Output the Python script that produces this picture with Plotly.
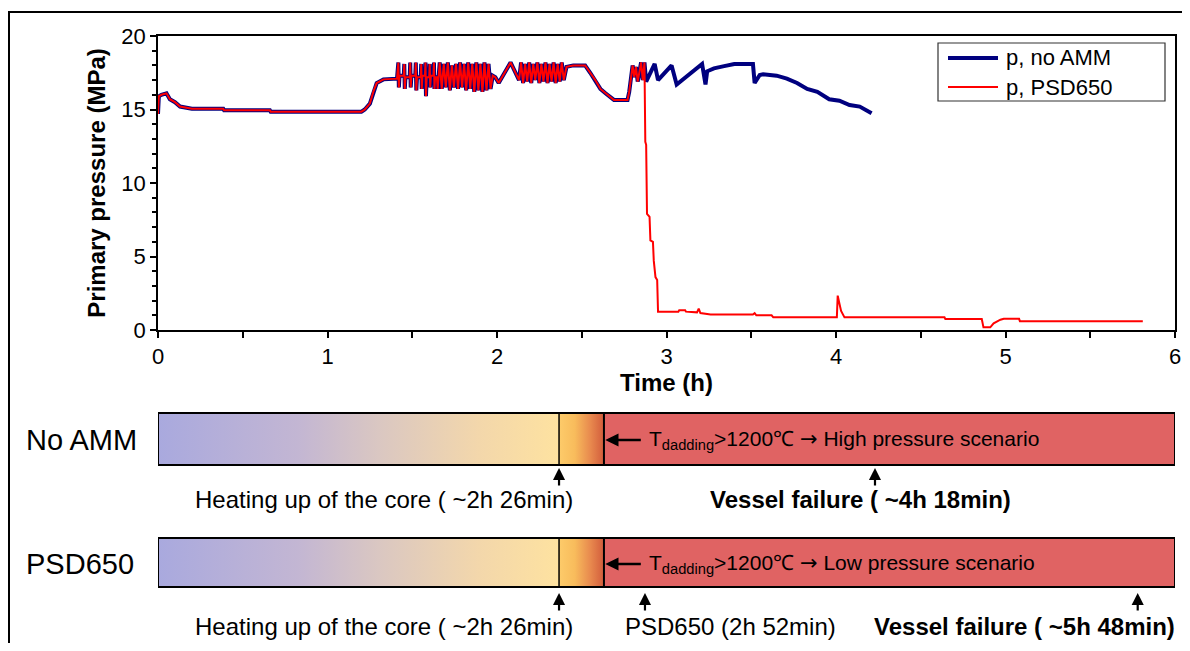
import plotly.graph_objects as go

# ---------------- data ----------------
# Part of the pressure history shared by both calculations (t in h, p in MPa)
t_common = [
    0.000, 0.005, 0.02, 0.05, 0.07, 0.10, 0.13, 0.17, 0.20, 0.385, 0.39, 0.66, 0.665, 1.20, 1.22, 1.25, 1.27, 1.29, 1.33, 1.41,
    1.418, 1.421, 1.425, 1.450, 1.453, 1.456, 1.460, 1.485, 1.488, 1.491, 1.495, 1.518, 1.521, 1.524, 1.528,
    1.550, 1.553, 1.556, 1.560, 1.575, 1.578, 1.581, 1.585, 1.600, 1.603, 1.606, 1.610, 1.625, 1.628, 1.631, 1.635,
    1.645, 1.650,
    1.662, 1.674, 1.686, 1.698, 1.710, 1.722, 1.734, 1.746, 1.758, 1.770, 1.782, 1.794, 1.806, 1.818, 1.830, 1.842, 1.854, 1.866, 1.878, 1.890,
    1.902, 1.914, 1.926, 1.938, 1.950, 1.962,
    1.975, 1.99, 2.01, 2.08, 2.13,
    2.142, 2.154, 2.166, 2.178, 2.190, 2.202, 2.214, 2.226, 2.238, 2.250, 2.262, 2.274, 2.286, 2.298, 2.310, 2.322, 2.334, 2.346, 2.358, 2.370,
    2.382, 2.394,
    2.41, 2.45, 2.52, 2.55, 2.58, 2.61, 2.64, 2.69, 2.77, 2.78, 2.80, 2.81, 2.82, 2.83, 2.85, 2.86, 2.87,
]
p_common = [
    14.7, 15.9, 16.0, 16.1, 15.7, 15.5, 15.2, 15.1, 15.05, 15.05, 14.95, 14.95, 14.85, 14.85, 15.0, 15.4, 16.2, 16.8, 17.05, 17.1,
    18.2, 16.5, 17.3, 17.3, 18.1, 16.4, 17.2, 17.2, 18.2, 16.5, 17.3, 17.3, 18.2, 16.3, 17.2,
    17.2, 18.1, 16.4, 17.3, 17.3, 18.2, 15.9, 17.2, 17.2, 18.1, 16.5, 17.3, 17.3, 18.2, 16.4, 17.2,
    17.2, 16.4,
    18.2, 16.4, 18.1, 16.5, 18.2, 16.3, 18.0, 16.5, 18.1, 16.4, 18.2, 16.5, 18.1, 16.3, 18.2, 16.4, 18.1, 16.2, 18.2, 16.3,
    18.1, 16.2, 18.2, 16.3, 18.1, 16.4,
    17.3, 17.2, 16.8, 18.2, 17.0,
    18.2, 16.8, 18.1, 16.9, 18.2, 16.8, 18.1, 17.0, 18.2, 16.8, 18.1, 16.9, 18.2, 16.8, 18.1, 16.9, 18.2, 16.8, 18.1, 16.9,
    18.2, 17.0,
    17.9, 18.0, 18.0, 17.5, 17.0, 16.4, 16.1, 15.65, 15.65, 16.2, 18.0, 17.2, 17.9, 16.9, 18.2, 17.0, 18.2,
]

# Continuation without accident management measures
t_noamm_tail = [2.88, 2.93, 2.95, 3.03, 3.06, 3.21, 3.23, 3.24, 3.28, 3.34, 3.40, 3.51, 3.52, 3.55, 3.57,
                3.65, 3.71, 3.77, 3.83, 3.89, 3.96, 4.02, 4.08, 4.14, 4.21]
p_noamm_tail = [16.9, 18.1, 17.0, 18.0, 16.7, 18.1, 16.7, 17.6, 17.8, 17.95, 18.1, 18.1, 16.8, 17.35, 17.4,
                17.3, 17.1, 16.8, 16.4, 16.2, 15.7, 15.6, 15.3, 15.2, 14.75]

# Continuation with PSD650 opening
t_psd_tail = [2.875, 2.88, 2.885, 2.90, 2.905, 2.92, 2.925, 2.935, 2.945, 2.95, 3.07, 3.075, 3.11, 3.115, 3.18,
              3.19, 3.20, 3.26, 3.51, 3.52, 3.53, 3.62, 3.63, 4.005, 4.01, 4.02, 4.03, 4.05, 4.64, 4.645,
              4.86, 4.87, 4.91, 4.93, 4.95, 4.97, 4.99, 5.08, 5.085, 5.81]
p_psd_tail = [12.8, 12.6, 7.9, 7.7, 6.1, 6.0, 4.7, 3.6, 3.4, 1.25, 1.25, 1.35, 1.35, 1.25, 1.2,
              1.45, 1.15, 1.05, 1.05, 1.15, 1.0, 1.0, 0.86, 0.86, 2.34, 1.8, 1.3, 0.86, 0.86, 0.75,
              0.75, 0.18, 0.18, 0.45, 0.6, 0.7, 0.76, 0.76, 0.6, 0.6]

series_names = ["p, no AMM", "p, PSD650"]

# Timeline (hours)
phase_bounds = [0.0, 2.366, 2.631, 6.0]
row_labels = ["No AMM", "PSD650"]
row_scenarios = ["High pressure scenario", "Low pressure scenario"]
heating_label = "Heating up of the core ( ~2h 26min)"
heating_mark = 2.366
vessel_labels = ["Vessel failure ( ~4h 18min)", "Vessel failure ( ~5h 48min)"]
vessel_marks = [4.23, 5.78]
vessel_label_x = [4.142, 5.115]
psd_label = "PSD650 (2h 52min)"
psd_mark = 2.873
psd_label_x = 3.375
heating_label_x = 1.336

# ---------------- style ----------------
NAVY = "#00007F"
RED = "#FF0000"
FONT = "Arial, Liberation Sans, sans-serif"
HEAT_SCALE = [[0, "#A9A9DE"], [0.35, "#C3B6D3"], [0.55, "#DAC7C2"], [0.8, "#F3D7AB"], [1, "#FEE2A0"]]
DEGR_SCALE = [[0, "#FDCB6A"], [0.35, "#F8BC5C"], [0.7, "#E8894E"], [1, "#D25C3C"]]
CLAD_COLOR = "#E06363"

# reference-pixel helpers (page body has an 8px margin, figure is 1174x635)
H_PLOT = 599          # plotting region: ref y 36 .. 635
W_PLOT = 1017         # plotting region: ref x 158 .. 1175
def y2(py):
    return 635 - py
def px_x(px):
    return (px - 158) / W_PLOT
def px_y(py):
    return (635 - py) / H_PLOT

row_bands = [(y2(465), y2(413)), (y2(587), y2(538))]
row_mid = [y2(440), y2(564)]
arrow_tip = [y2(468), y2(593)]
label_y = [y2(499), y2(626)]

fig = go.Figure()
fig.add_trace(go.Scatter(x=t_common + t_noamm_tail, y=p_common + p_noamm_tail, mode="lines",
                         name=series_names[0], line=dict(color=NAVY, width=4), showlegend=False))
fig.add_trace(go.Scatter(x=t_common + t_psd_tail, y=p_common + p_psd_tail, mode="lines",
                         name=series_names[1], line=dict(color=RED, width=2), showlegend=False))

shapes = []
annotations = []
for r in range(2):
    lo, hi = row_bands[r]
    for k in range(3):
        x0, x1 = phase_bounds[k], phase_bounds[k + 1]
        kw = dict(x=[x0, x1, x1, x0, x0], y=[lo, lo, hi, hi, lo], mode="lines", fill="toself",
                  line=dict(width=0, color="rgba(0,0,0,0)"), xaxis="x2", yaxis="y2",
                  showlegend=False, hoverinfo="skip")
        if k == 0:
            kw["fillgradient"] = dict(type="horizontal", colorscale=HEAT_SCALE)
        elif k == 1:
            kw["fillgradient"] = dict(type="horizontal", colorscale=DEGR_SCALE)
        else:
            kw["fillcolor"] = CLAD_COLOR
        fig.add_trace(go.Scatter(**kw))
    shapes.append(dict(type="rect", xref="x2", yref="y2", x0=0, x1=6, y0=lo, y1=hi,
                       line=dict(color="black", width=2), fillcolor="rgba(0,0,0,0)"))
    shapes.append(dict(type="line", xref="x2", yref="y2", x0=phase_bounds[1], x1=phase_bounds[1], y0=lo, y1=hi,
                       line=dict(color="black", width=1.5)))
    shapes.append(dict(type="line", xref="x2", yref="y2", x0=phase_bounds[2], x1=phase_bounds[2], y0=lo, y1=hi,
                       line=dict(color="black", width=2)))
    annotations.append(dict(xref="paper", yref="y2", x=px_x(24), y=row_mid[r], text=row_labels[r],
                            showarrow=False, xanchor="left", yanchor="middle", font=dict(size=29)))
    annotations.append(dict(xref="x2", yref="y2", x=phase_bounds[2] + 0.008, y=row_mid[r], text="",
                            showarrow=True, arrowhead=2, arrowsize=1.1, arrowwidth=2.4, arrowcolor="black",
                            ax=37, ay=0))
    annotations.append(dict(xref="x2", yref="y2", x=2.885, y=row_mid[r],
                            text="T<sub>dadding</sub>&gt;1200\u2103 <span style='font-family:DejaVu Sans'>\u2192</span> "
                                 + row_scenarios[r],
                            showarrow=False, xanchor="left", yanchor="middle", font=dict(size=21)))
    annotations.append(dict(xref="x2", yref="y2", x=heating_mark, y=arrow_tip[r], text="", showarrow=True,
                            arrowhead=2, arrowsize=1.1, arrowwidth=2.2, arrowcolor="black", ax=0, ay=19))
    annotations.append(dict(xref="x2", yref="y2", x=heating_label_x, y=label_y[r], text=heating_label,
                            showarrow=False, xanchor="center", yanchor="middle", font=dict(size=24)))
    annotations.append(dict(xref="x2", yref="y2", x=vessel_marks[r], y=arrow_tip[r], text="", showarrow=True,
                            arrowhead=2, arrowsize=1.1, arrowwidth=2.2, arrowcolor="black", ax=0, ay=19))
    annotations.append(dict(xref="x2", yref="y2", x=vessel_label_x[r], y=label_y[r],
                            text="<b>" + vessel_labels[r] + "</b>",
                            showarrow=False, xanchor="center", yanchor="middle", font=dict(size=24)))

annotations.append(dict(xref="x2", yref="y2", x=psd_mark, y=arrow_tip[1], text="", showarrow=True,
                        arrowhead=2, arrowsize=1.1, arrowwidth=2.2, arrowcolor="black", ax=0, ay=19))
annotations.append(dict(xref="x2", yref="y2", x=psd_label_x, y=label_y[1], text=psd_label,
                        showarrow=False, xanchor="center", yanchor="middle", font=dict(size=24)))

# legend (drawn as a framed key, matching the reference's long line samples)
shapes.append(dict(type="rect", xref="paper", yref="paper", x0=px_x(938), x1=px_x(1165),
                   y0=px_y(101), y1=px_y(43), line=dict(color="#333333", width=1.2), fillcolor="white"))
legend_rows = [(58, NAVY, 4), (87, RED, 2)]
for (py, col, w), name in zip(legend_rows, series_names):
    shapes.append(dict(type="line", xref="paper", yref="paper", x0=px_x(948), x1=px_x(998),
                       y0=px_y(py), y1=px_y(py), line=dict(color=col, width=w)))
    annotations.append(dict(xref="paper", yref="paper", x=px_x(1004), y=px_y(py), text=name,
                            showarrow=False, xanchor="left", yanchor="middle", font=dict(size=22)))

# outer frame
shapes.append(dict(type="rect", xref="paper", yref="paper", x0=px_x(9), x1=1.05,
                   y0=-0.06, y1=px_y(12), line=dict(color="black", width=2),
                   fillcolor="rgba(0,0,0,0)", layer="below"))

axis_common = dict(showline=True, linecolor="black", linewidth=1.5, mirror=True, showgrid=False,
                   zeroline=False, ticks="outside", tickcolor="black", tickwidth=1.5, ticklen=6,
                   tickfont=dict(size=22), automargin=False)

fig.update_layout(
    template="none",
    width=1174, height=635,
    margin=dict(l=150, r=7, t=28, b=8, autoexpand=False),
    paper_bgcolor="white", plot_bgcolor="rgba(0,0,0,0)",
    font=dict(family=FONT, color="black", size=20),
    xaxis=dict(domain=[0, 1], range=[0, 6], anchor="y", dtick=1, tick0=0,
               minor=dict(dtick=0.5, ticks="outside", ticklen=6, tickwidth=1.5, tickcolor="black"),
               title=dict(text="<b>Time (h)</b>", font=dict(size=24), standoff=6), **axis_common),
    yaxis=dict(domain=[px_y(330), 1], range=[0, 20], anchor="x", dtick=5, tick0=0,
               minor=dict(dtick=1, ticks="outside", ticklen=4, tickwidth=1.5, tickcolor="black"),
               title=dict(text="<b>Primary pressure (MPa)</b>", font=dict(size=24), standoff=9),
               **axis_common),
    xaxis2=dict(domain=[0, 1], range=[0, 6], anchor="y2", visible=False, automargin=False),
    yaxis2=dict(domain=[0, 0.48], range=[0, 0.48 * H_PLOT], anchor="x2", visible=False, automargin=False),
    shapes=shapes,
    annotations=annotations,
    showlegend=False,
)

fig.write_html("out.html")
